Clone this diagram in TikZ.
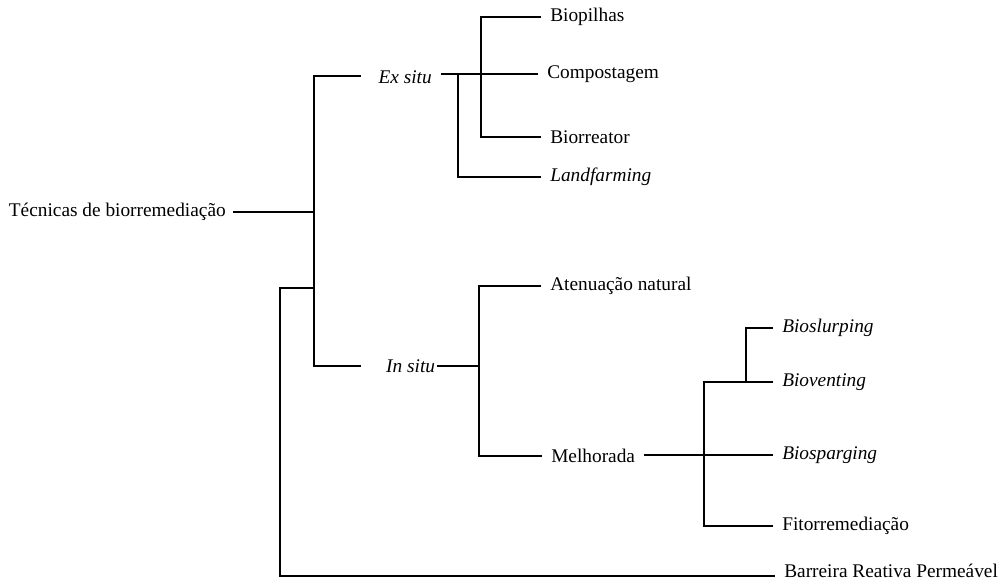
\documentclass[tikz,border=0pt]{standalone}
\usepackage{fontspec}
\setmainfont{Liberation Serif}
\begin{document}
\begin{tikzpicture}[x=0.75pt,y=-0.75pt,
  lbl/.style={inner xsep=7.5pt,inner ysep=2pt,font=\fontsize{14.5}{17}\selectfont},
  conn/.style={line width=1.4pt,line cap=rect}]
\useasboundingbox[fill=white] (0,0) rectangle (1000,588);
% labels
\node[lbl,anchor=east,inner xsep=6pt] (root) at (234,212) {Técnicas de biorremediação};
\node[lbl,anchor=east] (exsitu) at (442,77) {\textit{Ex situ}};
\node[lbl,anchor=east,inner xsep=2pt] (insitu) at (438,366) {\textit{In situ}};
\node[lbl,anchor=west] (biop) at (540,17) {Biopilhas};
\node[lbl,anchor=west] (comp) at (537,74) {Compostagem};
\node[lbl,anchor=west] (bior) at (540,137) {Biorreator};
\node[lbl,anchor=west] (land) at (540,177) {\textit{Landfarming}};
\node[lbl,anchor=west] (aten) at (540,286) {Atenuação natural};
\node[lbl,anchor=west] (melh) at (541,456) {Melhorada};
\node[lbl,anchor=west] (bslu) at (772,328) {\textit{Bioslurping}};
\node[lbl,anchor=west] (bven) at (772,382) {\textit{Bioventing}};
\node[lbl,anchor=west] (bspa) at (772,455) {\textit{Biosparging}};
\node[lbl,anchor=west] (fito) at (772,526) {Fitorremediação};
\node[lbl,anchor=west] (barr) at (774,571) {Barreira Reativa Permeável};
% junctions
\coordinate (m) at (314,212);
\coordinate (exl) at (360,76);
\coordinate (inl) at (360,366);
\coordinate (b0) at (314,288);
\coordinate (b1) at (280,288);
\coordinate (e1) at (458,74);
\coordinate (e2) at (481,74);
\coordinate (i1) at (479,366);
\coordinate (k1) at (704,455);
\coordinate (k2) at (746,382);
\coordinate (b2) at (280,576);
% connectors
\draw[conn] (root.east) -- (m);
\draw[conn] (exl) -| (m) |- (inl);
\draw[conn] (b0) -- (b1) -- (b2) -- (barr.west |- b2);
\draw[conn] (exsitu.east |- comp.west) -- (comp.west);
\draw[conn] (e1) |- (land.west);
\draw[conn] (biop.west) -| (e2) |- (bior.west);
\draw[conn] (insitu.east) -- (i1);
\draw[conn] (aten.west) -| (i1) |- (melh.west);
\draw[conn] (melh.east |- bspa.west) -- (bspa.west);
\draw[conn] (bven.west) -| (k1) |- (fito.west);
\draw[conn] (bslu.west) -| (k2);
\end{tikzpicture}
\end{document}
